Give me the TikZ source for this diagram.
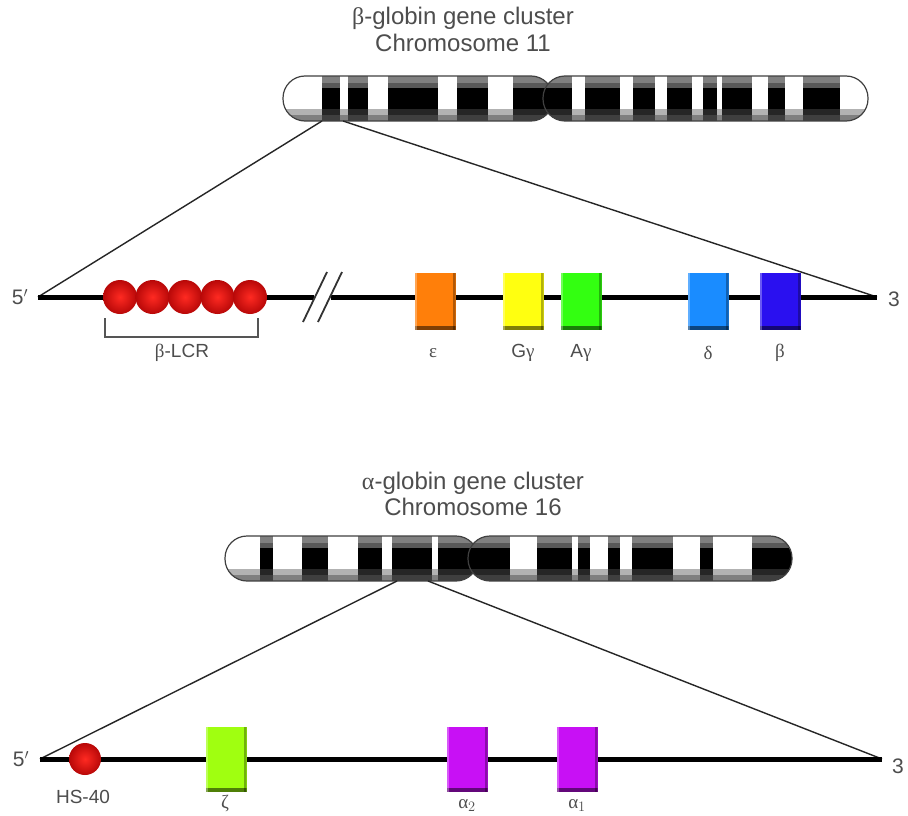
\documentclass[tikz,border=0pt]{standalone}
\usepackage{fontspec}
\setmainfont{Liberation Sans}
\newfontfamily\grk{Liberation Serif}
\usetikzlibrary{calc}

\definecolor{txt}{HTML}{4D4D4D}
\definecolor{epsc}{HTML}{FF7F0A}
\definecolor{ggc}{HTML}{FFFF10}
\definecolor{agc}{HTML}{33FF11}
\definecolor{delc}{HTML}{1A8CFF}
\definecolor{betc}{HTML}{2A10F0}
\definecolor{zetc}{HTML}{A0FF10}
\definecolor{alpc}{HTML}{C810F5}
\definecolor{beadin}{HTML}{FF2A22}
\definecolor{beadout}{HTML}{B80808}
\definecolor{shadowc}{HTML}{555555}

\tikzset{
  title/.style={text=txt, font=\fontsize{24}{26}\selectfont, inner sep=0pt},
  lab/.style={text=txt, font=\fontsize{19}{21}\selectfont, inner sep=0pt},
  endlab/.style={text=txt, font=\fontsize{21}{23}\selectfont, inner sep=0pt},
  dna/.style={line width=5pt, black},
  zoomline/.style={line width=1.4pt, black!85},
  slash/.style={line width=1.8pt, black!80},
  bracket/.style={line width=1.6pt, shadowc},
  chromline/.style={line width=1.2pt, black!75},
  bead/.style={circle, minimum size=#1, inner sep=0pt, shading=radial,
    inner color=beadin, outer color=beadout},
  gene/.style={fill=#1, minimum width=41pt, inner sep=0pt,
    path picture={
      \fill[black, opacity=0.5] (path picture bounding box.south west)
        rectangle ([yshift=4pt]path picture bounding box.south east);
      \fill[black, opacity=0.3] ([xshift=-3pt]path picture bounding box.south east)
        rectangle (path picture bounding box.north east);
      \fill[white, opacity=0.3] (path picture bounding box.north west)
        rectangle ([xshift=2pt]path picture bounding box.south west);
    }},
}

% one arm of a banded chromosome: #1,#2 = x range, #3,#4 = y range, #5 = dark bands
\newcommand{\chromarm}[5]{%
  \begin{scope}
    \clip[rounded corners=22pt] (#1,#3) rectangle (#2,#4);
    \fill[white] (#1,#3) rectangle (#2,#4);
    \foreach \a/\b in {#5} \fill[black] (\a,#3) rectangle (\b,#4);
    \fill[white, opacity=0.5] (#1,#3) rectangle (#2,#3+7);
    \fill[white, opacity=0.35] (#1,#3+7) rectangle (#2,#3+12);
    \fill[shadowc, opacity=0.45] (#1,#4-12) rectangle (#2,#4-6);
    \fill[shadowc, opacity=0.75] (#1,#4-6) rectangle (#2,#4);
  \end{scope}
  \draw[chromline, rounded corners=22pt] (#1,#3) rectangle (#2,#4);
}

\begin{document}
\begin{tikzpicture}[x=1pt, y=-1pt]
\useasboundingbox (0,0) rectangle (908,816);
\fill[white] (0,0) rectangle (908,816);

% ---------------- beta-globin cluster ----------------
\node[title] (btitle) at (463,18) {{\grk β}-globin gene cluster};
\node[title] (bchr) at (463,43) {Chromosome 11};

\chromarm{283}{553}{76}{121}{322/340,348/368,388/438,457/488,513/560}
\chromarm{543}{868}{76}{121}{540/572,585/620,633/655,667/692,703/717,722/752,768/785,803/840}

\coordinate (c11a) at (322,121);
\coordinate (c11b) at (343,121);
\coordinate (b5) at (38,297);
\coordinate (b3) at (877,297);
\coordinate (bbrkL) at (314,297);
\coordinate (bbrkR) at (331,297);

\draw[zoomline] (c11a) -- (b5);
\draw[zoomline] (c11b) -- (b3);
\draw[dna] (b5) -- (bbrkL);
\draw[dna] (bbrkR) -- (b3);

% break mark
\coordinate (s1a) at (303,322); \coordinate (s1b) at (327,272);
\coordinate (s2a) at (318,322); \coordinate (s2b) at (342,272);
\draw[slash] (s1a) -- (s1b);
\draw[slash] (s2a) -- (s2b);

\node[endlab] (b5l) at (20,297) {5$^{\prime}$};
\node[endlab] (b3l) at (894,299) {3};

% locus control region
\foreach \i/\x in {1/120,2/152.5,3/185,4/217.5,5/250}
  \node[bead=34pt] (lcr\i) at (\x,297) {};
\coordinate (brk1) at (105,318);
\coordinate (brk2) at (258,318);
\draw[bracket] (brk1) |- (181,337) -| (brk2);
\node[lab] (lcrl) at (182,353) {{\grk β}-LCR};

% beta-like genes
\node[gene=epsc, minimum height=57pt] (eps) at (435,301.5) {};
\node[gene=ggc,  minimum height=57pt] (gg)  at (523,301.5) {};
\node[gene=agc,  minimum height=57pt] (ag)  at (581,301.5) {};
\node[gene=delc, minimum height=57pt] (del) at (708,301.5) {};
\node[gene=betc, minimum height=57pt] (bet) at (780,301.5) {};

\node[lab] (epsl) at (433,353) {\grk ε};
\node[lab] (ggl)  at (523,353) {G{\grk γ}};
\node[lab] (agl)  at (581,353) {A{\grk γ}};
\node[lab] (dell) at (708,353) {\grk δ};
\node[lab] (betl) at (780,353) {\grk β};

% ---------------- alpha-globin cluster ----------------
\node[title] (atitle) at (473,483) {{\grk α}-globin gene cluster};
\node[title] (achr) at (473,507) {Chromosome 16};

\chromarm{225}{478}{536}{581}{260/273,302/328,358/382,392/432,438/485}
\chromarm{468}{792}{536}{581}{460/510,537/572,578/590,608/620,632/673,700/713,752/800}

\coordinate (c16a) at (397,581);
\coordinate (c16b) at (428,581);
\coordinate (a5) at (40,759);
\coordinate (a3) at (882,759);

\draw[zoomline] (c16a) -- (a5);
\draw[zoomline] (c16b) -- (a3);
\draw[dna] (a5) -- (a3);

\node[endlab] (a5l) at (21,759) {5$^{\prime}$};
\node[endlab] (a3l) at (898,766) {3};

\node[bead=32pt] (hs) at (85,759) {};
\node[lab] (hsl) at (83,797) {HS-40};

% alpha-like genes
\node[gene=zetc, minimum height=65pt] (zet) at (226,759.5) {};
\node[gene=alpc, minimum height=65pt] (al2) at (467,759.5) {};
\node[gene=alpc, minimum height=65pt] (al1) at (577,759.5) {};

\node[lab, anchor=base] (zetl) at (225,808) {\grk ζ};
\node[lab, anchor=base] (al2l) at (467,808) {{\grk α}$_2$};
\node[lab, anchor=base] (al1l) at (577,808) {{\grk α}$_1$};
\end{tikzpicture}
\end{document}
